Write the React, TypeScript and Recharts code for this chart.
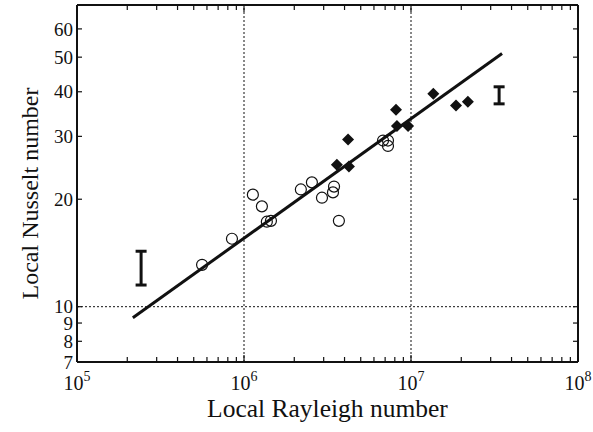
import React from 'react';
import { ScatterChart, Scatter, XAxis, YAxis, ReferenceLine, ErrorBar, Label } from 'recharts';

// open circles
const openRa = [5.61e5, 8.47e5, 1.13e6, 1.28e6, 1.37e6, 1.45e6, 2.19e6, 2.55e6, 2.93e6, 3.46e6, 3.41e6, 3.7e6, 6.8e6, 7.28e6, 7.28e6];
const openNu = [13.1, 15.5, 20.6, 19.1, 17.3, 17.4, 21.3, 22.3, 20.2, 21.7, 20.9, 17.4, 29.2, 29.2, 28.2];

// filled diamonds
const filledRa = [3.6e6, 4.2e6, 4.25e6, 8.13e6, 8.24e6, 9.6e6, 1.36e7, 1.86e7, 2.19e7];
const filledNu = [25.0, 29.4, 24.7, 35.6, 32.1, 32.1, 39.5, 36.6, 37.5];

// correlation line end points
const fitRa = [2.16e5, 3.51e7];
const fitNu = [9.31, 51.2];

// uncertainty bars
const errRa = [2.42e5, 3.37e7];
const errLow = [11.5, 37.0];
const errHigh = [14.3, 41.3];

const xDecades = [1e5, 1e6, 1e7, 1e8];
const xDecadeExp = ['5', '6', '7', '8'];
const minorMult = [2, 3, 4, 5, 6, 7, 8, 9];
const yTicks = [7, 8, 9, 10, 20, 30, 40, 50, 60];

const xTicks: number[] = [];
xDecades.forEach((d, i) => {
  xTicks.push(d);
  if (i < xDecades.length - 1) minorMult.forEach((m) => xTicks.push(d * m));
});

const openData = openRa.map((x, i) => ({ x, y: openNu[i] }));
const filledData = filledRa.map((x, i) => ({ x, y: filledNu[i] }));
const fitData = fitRa.map((x, i) => ({ x, y: fitNu[i] }));
const errData = errRa.map((x, i) => {
  const mid = (errLow[i] + errHigh[i]) / 2;
  return { x, y: mid, err: [mid - errLow[i], errHigh[i] - mid] };
});

const FONT = '"Liberation Serif", "Times New Roman", serif';
const INK = '#111';

const BottomTick = (props: any) => {
  const { x, y, payload } = props;
  const idx = xDecades.indexOf(payload.value);
  const major = idx >= 0;
  return (
    <g>
      <line x1={x} x2={x} y1={y} y2={y - (major ? 7 : 5)} stroke={INK} strokeWidth={1.2} />
      {major && (
        <text x={x} y={y + 28} textAnchor="middle" fontSize={20} fontFamily={FONT} fill={INK}>
          10
          <tspan dy={-9} fontSize={14}>{xDecadeExp[idx]}</tspan>
        </text>
      )}
    </g>
  );
};

const TopTick = (props: any) => {
  const { x, y, payload } = props;
  const major = xDecades.indexOf(payload.value) >= 0;
  return <line x1={x} x2={x} y1={y} y2={y + (major ? 7 : 5)} stroke={INK} strokeWidth={1.2} />;
};

const LeftTick = (props: any) => {
  const { x, y, payload } = props;
  return (
    <g>
      <line x1={x} x2={x + 5} y1={y} y2={y} stroke={INK} strokeWidth={1.2} />
      <text x={x - 4} y={y} dy="0.35em" textAnchor="end" fontSize={19} fontFamily={FONT} fill={INK}>
        {payload.value}
      </text>
    </g>
  );
};

const RightTick = (props: any) => {
  const { x, y } = props;
  return <line x1={x} x2={x - 5} y1={y} y2={y} stroke={INK} strokeWidth={1.2} />;
};

const OpenCircle = (props: any) => (
  <circle cx={props.cx} cy={props.cy} r={5.5} fill="none" stroke={INK} strokeWidth={1.2} />
);

const Diamond = (props: any) => {
  const { cx, cy } = props;
  const s = 6;
  return <polygon points={`${cx},${cy - s} ${cx + s},${cy} ${cx},${cy + s} ${cx - s},${cy}`} fill={INK} />;
};

const Nothing = () => <g />;

const XTitle = (props: any) => {
  const vb = props.viewBox;
  return (
    <text x={vb.x + vb.width / 2} y={vb.y + 55} textAnchor="middle" fontSize={25.5} fontFamily={FONT} fill={INK}>
      Local Rayleigh number
    </text>
  );
};

const YTitle = (props: any) => {
  const vb = props.viewBox;
  const cx = vb.x + 38;
  const cy = vb.y + vb.height / 2 + 10;
  return (
    <text x={cx} y={cy} transform={`rotate(-90 ${cx} ${cy})`} textAnchor="middle" fontSize={24} fontFamily={FONT} fill={INK}>
      Local Nusselt number
    </text>
  );
};

export default function App() {
  return (
    <div style={{ position: 'absolute', left: 0, top: 0, background: '#fff' }}>
      <ScatterChart width={593} height={432} margin={{ top: 0, right: 0, bottom: 0, left: 0 }}>
        <XAxis
          xAxisId="b"
          dataKey="x"
          type="number"
          scale="log"
          domain={[1e5, 1e8]}
          ticks={xTicks}
          interval={0}
          allowDataOverflow
          height={70}
          tickSize={0}
          tickMargin={0}
          tick={<BottomTick />}
          axisLine={{ stroke: INK, strokeWidth: 2 }}
        >
          <Label content={<XTitle />} />
        </XAxis>
        <XAxis
          xAxisId="t"
          orientation="top"
          dataKey="x"
          type="number"
          scale="log"
          domain={[1e5, 1e8]}
          ticks={xTicks}
          interval={0}
          allowDataOverflow
          height={5}
          tickSize={0}
          tickMargin={0}
          tick={<TopTick />}
          axisLine={{ stroke: INK, strokeWidth: 2 }}
        />
        <YAxis
          yAxisId="l"
          dataKey="y"
          type="number"
          scale="log"
          domain={[7, 70]}
          ticks={yTicks}
          interval={0}
          allowDataOverflow
          width={77}
          tickSize={0}
          tickMargin={0}
          tick={<LeftTick />}
          axisLine={{ stroke: INK, strokeWidth: 2 }}
        >
          <Label content={<YTitle />} />
        </YAxis>
        <YAxis
          yAxisId="r"
          orientation="right"
          dataKey="y"
          type="number"
          scale="log"
          domain={[7, 70]}
          ticks={yTicks}
          interval={0}
          allowDataOverflow
          width={15}
          tickSize={0}
          tickMargin={0}
          tick={<RightTick />}
          axisLine={{ stroke: INK, strokeWidth: 2 }}
        />
        <ReferenceLine xAxisId="b" yAxisId="l" x={1e6} stroke={INK} strokeWidth={1} strokeDasharray="2 2" />
        <ReferenceLine xAxisId="b" yAxisId="l" x={1e7} stroke={INK} strokeWidth={1} strokeDasharray="2 2" />
        <ReferenceLine xAxisId="b" yAxisId="l" y={10} stroke={INK} strokeWidth={1} strokeDasharray="2 2" />
        <Scatter
          xAxisId="b"
          yAxisId="l"
          data={fitData}
          line={{ stroke: INK, strokeWidth: 3 }}
          shape={<Nothing />}
          isAnimationActive={false}
        />
        <Scatter xAxisId="b" yAxisId="l" data={openData} shape={<OpenCircle />} isAnimationActive={false} />
        <Scatter xAxisId="b" yAxisId="l" data={filledData} shape={<Diamond />} isAnimationActive={false} />
        <Scatter xAxisId="b" yAxisId="l" data={errData} shape={<Nothing />} isAnimationActive={false}>
          <ErrorBar dataKey="err" direction="y" width={5.5} stroke={INK} strokeWidth={3} isAnimationActive={false} />
        </Scatter>
      </ScatterChart>
    </div>
  );
}
